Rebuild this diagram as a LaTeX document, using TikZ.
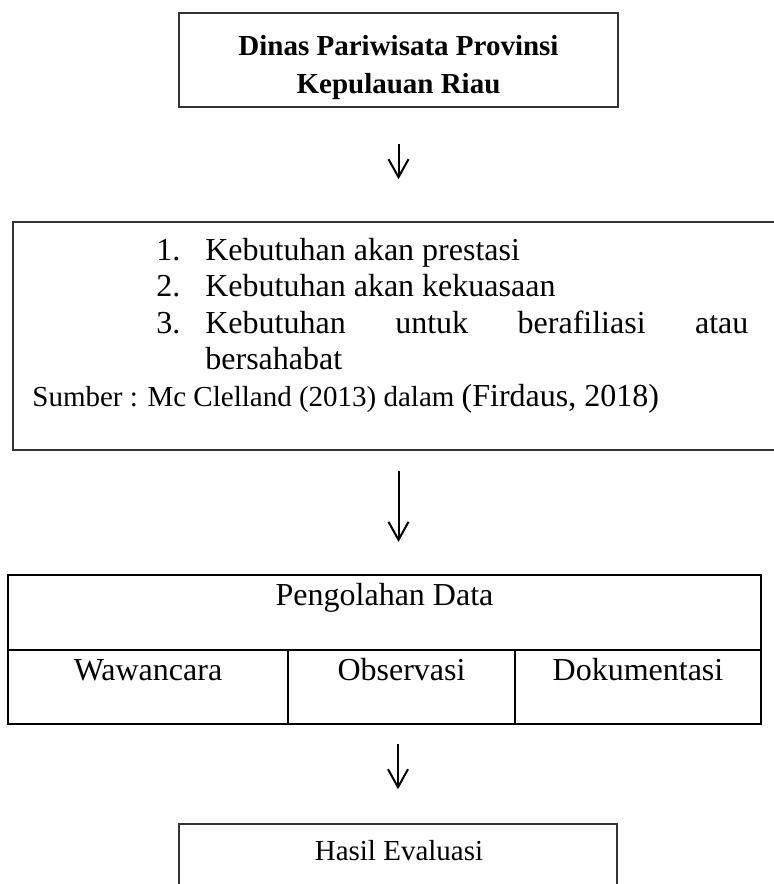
\documentclass[tikz,border=0pt]{standalone}
\usepackage{fontspec}
\setmainfont{Liberation Serif}
\usetikzlibrary{arrows.meta}

\begin{document}
\begin{tikzpicture}[x=0.5pt, y=-0.5pt,
  kotak/.style={draw=black!80, line width=0.75pt, inner sep=0pt},
  sel/.style={draw, line width=1.1pt, inner sep=0pt},
  teks/.style={inner sep=0pt, font=\fontsize{16}{18.3}\selectfont},
  panah/.style={-{Straight Barb[length=9pt, width=10pt]}, line width=1pt}]
\useasboundingbox (0,0) rectangle (774,884);
\node[kotak, minimum width=219.5pt, minimum height=47pt, text height=20.3pt, text depth=24.7pt, font=\fontsize{14.5}{19}\selectfont\bfseries] (dinas) at (398.5,60) {\begin{tabular}[t]{@{}c@{}}Dinas Pariwisata Provinsi\\Kepulauan Riau\end{tabular}};
\node[kotak, minimum width=388.5pt, minimum height=114pt] (teori) at (401.5,336) {};
\node[teks, anchor=base west] (daftar) at (156,260) {\begin{tabular}[t]{@{}p{24.5pt}@{}l@{}}
  1. & Kebutuhan akan prestasi\\
  2. & Kebutuhan akan kekuasaan\\
  3. & \makebox[271.5pt][s]{Kebutuhan untuk berafiliasi atau}\\
     & bersahabat
  \end{tabular}};
\node[teks, anchor=base west] (sumber) at (32,406) {\fontsize{14.5}{17}\selectfont Sumber : Mc Clelland (2013) dalam {\fontsize{16}{18}\selectfont(Firdaus, 2018)}};
\node[sel, minimum width=376.5pt, minimum height=37.5pt] (selolah) at (384.5,612.5) {};
\node[sel, minimum width=140pt, minimum height=37pt] (selwawan) at (148,687) {};
\node[sel, minimum width=113.5pt, minimum height=37pt] (selobs) at (401.5,687) {};
\node[sel, minimum width=123pt, minimum height=37pt] (seldok) at (638,687) {};
\node[teks, anchor=base] (olah) at (384.5,605) {Pengolahan Data};
\node[teks, anchor=base] (wawancara) at (148,680) {Wawancara};
\node[teks, anchor=base] (observasi) at (401.5,680) {Observasi};
\node[teks, anchor=base] (dokumentasi) at (638,680) {Dokumentasi};
\node[kotak, minimum width=219pt, minimum height=63pt] (hasil) at (398,887) {};
\node[teks, font=\fontsize{14.5}{17}\selectfont, anchor=base] (evaluasi) at (399,860) {Hasil Evaluasi};
\draw[panah, shorten <=18pt, shorten >=21pt] (dinas.south) -- (dinas.south |- teori.north);
\draw[panah, shorten <=10pt, shorten >=16pt] (teori.south -| dinas.south) -- (selolah.north -| dinas.south);
\draw[panah, shorten <=9.5pt, shorten >=17pt] (selobs.south -| hasil.north) -- (hasil.north);
\end{tikzpicture}
\end{document}
